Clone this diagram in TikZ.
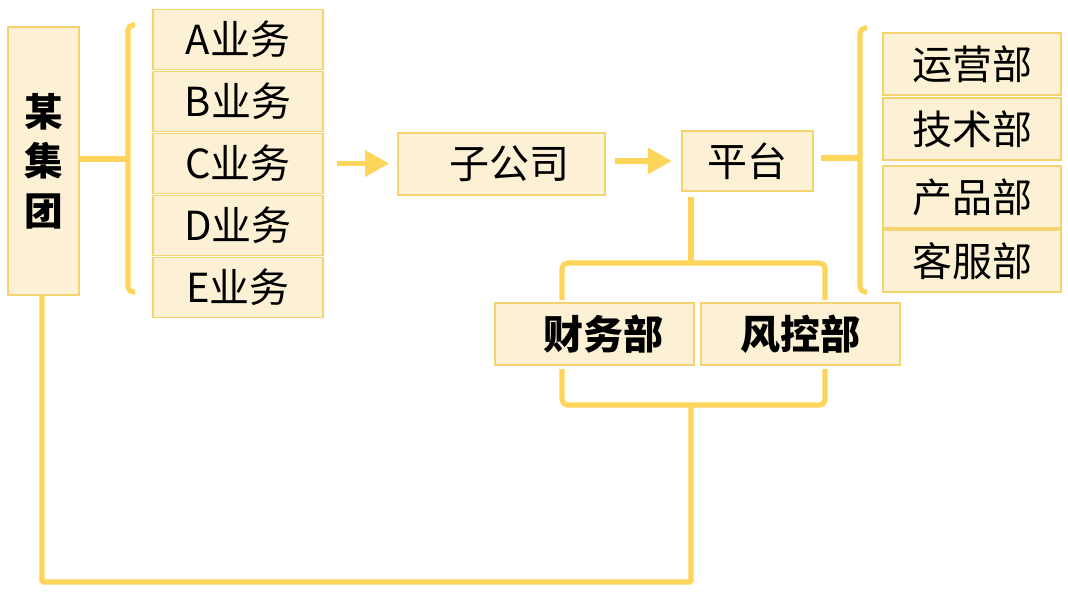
\documentclass[tikz,border=0pt]{standalone}
\usepackage{fontspec}
\setmainfont{Noto Sans CJK SC}
\usetikzlibrary{arrows.meta}
\definecolor{lineyellow}{HTML}{FDD55A}
\definecolor{boxedge}{HTML}{F5D371}
\definecolor{boxfill}{HTML}{FDF1D5}

\begin{document}
\begin{tikzpicture}[x=0.75pt,y=-0.75pt,
  box/.style={draw=boxedge,fill=boxfill,line width=1.2pt,inner sep=0pt,
    font=\fontsize{30}{32}\selectfont},
  link/.style={draw=lineyellow,line width=3.8pt,rounded corners=4pt},
  >={Triangle[length=18pt,width=19pt]}]

\useasboundingbox[fill=white] (0,0) rectangle (1068,594);

\node[box,minimum width=53.25pt,minimum height=201pt,align=center,
  font=\fontsize{29}{37}\selectfont\bfseries] (group) at (43.5,161) {某\\集\\团};

\foreach \name/\y in {A/39.5,B/101.5,C/163.5,D/225.5,E/287.5}
  \node[box,minimum width=127.5pt,minimum height=45pt] (\name) at (238,\y) {\name 业务};

\node[box,minimum width=155.25pt,minimum height=46.5pt] (sub) at (501.5,164) {\hspace{12pt}子公司};
\node[box,minimum width=98.25pt,minimum height=45pt] (plat) at (747.5,161) {平台};

\node[box,minimum width=133.5pt,minimum height=46.5pt] (ops) at (972,64) {运营部};
\node[box,minimum width=133.5pt,minimum height=46.5pt] (tech) at (972,129) {技术部};
\node[box,minimum width=133.5pt,minimum height=46.5pt] (prod) at (972,197) {产品部};
\node[box,minimum width=133.5pt,minimum height=46.5pt] (serv) at (972,261) {客服部};

\node[box,minimum width=149.25pt,minimum height=46.5pt,font=\fontsize{30}{32}\selectfont\bfseries] (fin) at (594.5,334) {\hspace{14pt}财务部};
\node[box,minimum width=149.25pt,minimum height=46.5pt,font=\fontsize{30}{32}\selectfont\bfseries] (risk) at (800.5,334) {风控部};

% brackets and joints
\coordinate (lb) at (128,159);
\coordinate (rb) at (860,158);
\coordinate (top) at (691,263);
\coordinate (bot) at (691,405);

\draw[link] (group.east |- lb) -- (lb);
\draw[link] (135,25) -- (128,25) -- (128,292) -- (135,292);
\draw[link] (plat.east |- rb) ++(7,0) -- (rb);
\draw[link] (867,28) -- (860,28) -- (860,292) -- (867,292);

\draw[link] (top |- plat.south) ++(0,5) -- (top);
\draw[link] (562,300) -- (562,263) -- (825,263) -- (825,300);
\draw[link] (562,369) -- (562,405) -- (825,405) -- (825,369);
\draw[link,rounded corners=1pt] (bot) -- (691,582) -- (42,582) -- (42,0 |- group.south);

% arrows
\draw[->,draw=lineyellow,fill=lineyellow,line width=3.8pt,shorten <=10pt,shorten >=6pt] (C.east) -- (C.east -| sub.west);
\draw[->,draw=lineyellow,fill=lineyellow,line width=3.8pt,shorten <=7pt,shorten >=7pt] (sub.east |- plat) -- (plat.west);

\end{tikzpicture}
\end{document}
